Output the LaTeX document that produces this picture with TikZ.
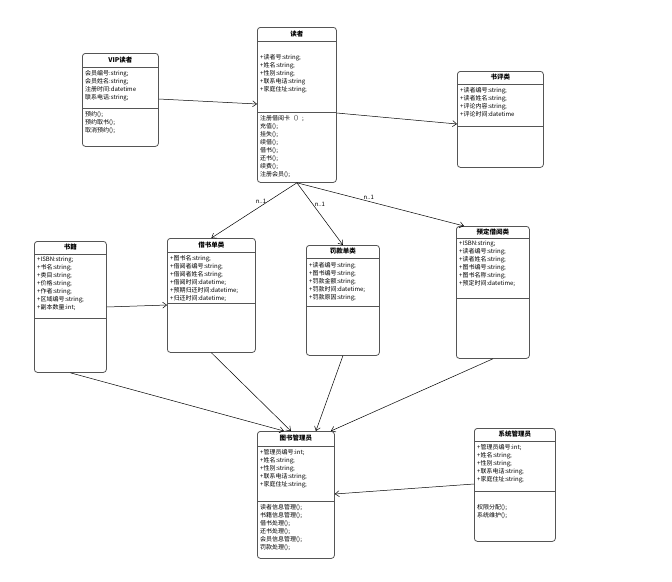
\documentclass[tikz,border=0pt]{standalone}
\usepackage{fontspec}
\setmainfont{Noto Sans CJK SC}
\usepackage{tikz}
\usetikzlibrary{arrows.meta,calc,positioning}
\definecolor{c1}{RGB}{85,85,85}
\tikzset{
  classbox/.style={draw=c1, rounded corners=3pt, line width=0.8pt, inner sep=0pt},
  classtitle/.style={font=\fontsize{6.5}{8}\selectfont\bfseries, inner sep=0pt},
  divider/.style={draw=c1, line width=0.7pt},
  members/.style={font=\fontsize{6}{8}\selectfont, align=left, inner sep=0pt},
  edge/.style={-{Straight Barb[length=4pt,width=6pt]}, line width=0.5pt},
  mult/.style={font=\fontsize{6}{7}\selectfont, inner sep=1.5pt}
}
% name, top left, width, height, title line, member line, title, fields, operations
\newcommand{\umlclass}[9]{%
  \node[classbox, minimum width=#3pt, minimum height=#4pt, anchor=north west] (#1) at (#2) {};
  \node[classtitle] (#1-title) at ([yshift=-#5pt/2]#1.north) {#7};
  \draw[divider] ([yshift=-#5pt]#1.north west) -- ([yshift=-#5pt]#1.north east);
  \draw[divider] ([yshift=-#6pt]#1.north west) -- ([yshift=-#6pt]#1.north east);
  \node[members, anchor=north west] (#1-fields) at ([xshift=3pt,yshift=-#5pt-3pt]#1.north west) {#8};
  \node[members, anchor=north west] (#1-ops) at ([xshift=3pt,yshift=-#6pt-3pt]#1.north west) {#9};
}

\begin{document}
\begin{tikzpicture}[x=1pt, y=-1pt]
    \useasboundingbox[fill=white] (0,0) rectangle (672,581);

    \umlclass{vip}{82,53}{76}{93}{14}{55}{VIP读者}
      {会员编号:string;\\会员姓名:string;\\注册时间:datetime\\联系电话:string;}
      {预约();\\预约取书();\\取消预约();}
    \umlclass{reader}{257,27}{79}{155}{14}{85}{读者}
      {\mbox{}\\[7pt]+读者号:string;\\+姓名:string;\\+性别:string;\\+联系电话:string\\+家庭住址:string;}
      {注册借阅卡（）;\\充值();\\挂失();\\续借();\\借书();\\还书();\\续费();\\注册会员();}
    \umlclass{review}{457,71}{86}{96}{13}{55}{书评类}
      {+读者编号:string;\\+读者姓名:string;\\+评论内容:string;\\+评论时间:datetime}
      {}
    \umlclass{book}{34,241}{72}{131}{13}{77}{书籍}
      {+ISBN:string;\\+书名:string;\\+类目:string;\\+价格:string;\\+作者:string;\\+区域编号:string;\\+副本数量:int;}
      {}
    \umlclass{lend}{167,238}{88}{114}{14}{65}{借书单类}
      {+图书名:string;\\+借阅者编号:string;\\+借阅者姓名:string;\\+借阅时间:datetime;\\+预期归还时间:datetime;\\+归还时间:datetime;}
      {}
    \umlclass{fine}{306,245}{73}{110}{13}{61}{罚款单类}
      {\mbox{}\\[-2pt]+读者编号:string;\\+图书编号:string;\\+罚款金额:string;\\+罚款时间:datetime;\\+罚款原因:string;}
      {}
    \umlclass{reserve}{456,226}{73}{132}{12}{72}{预定借阅类}
      {+ISBN:string;\\+读者编号:string;\\+读者姓名:string;\\+图书编号:string;\\+图书名称:string;\\+预定时间:datetime;}
      {}
    \umlclass{librarian}{257,431}{77}{127}{15}{70}{图书管理员}
      {\mbox{}\\[-3pt]+管理员编号:int;\\+姓名:string;\\+性别:string;\\+联系电话:string;\\+家庭住址:string;}
      {读者信息管理();\\书籍信息管理();\\借书处理();\\还书处理();\\会员信息管理();\\罚款处理();}
    \umlclass{sysadmin}{474,428}{81}{113}{13}{63}{系统管理员}
      {+管理员编号:int;\\+姓名:string;\\+性别:string;\\+联系电话:string;\\+家庭住址:string;}
      {\mbox{}\\[7pt]权限分配();\\系统维护();}

    \draw [edge] ([yshift=-46pt]vip.north east) -- ([yshift=-77pt]reader.north west);
    \draw [edge] ([yshift=-86pt]reader.north east) -- ([yshift=-53pt]review.north west);
    \draw [edge] (reader.south) -- node[mult, pos=0.34, left] {n..1} (lend.north);
    \draw [edge] (reader.south) -- node[mult, pos=0.35, right] {n..1} (fine.north);
    \draw [edge] (reader.south) -- node[mult, pos=0.43, above] {n..1} ([xshift=8pt]reserve.north west);
    \draw [edge] ([yshift=-66pt]book.north east) -- ([yshift=-67pt]lend.north west);
    \draw [edge] (book.south) -- ([xshift=-12pt]librarian.north);
    \draw [edge] (lend.south) -- ([xshift=-5pt]librarian.north);
    \draw [edge] (fine.south) -- ([xshift=20pt]librarian.north);
    \draw [edge] (reserve.south) -- ([xshift=35pt]librarian.north);
    \draw [edge] ([yshift=-56pt]sysadmin.north west) -- ([yshift=-63pt]librarian.north east);
\end{tikzpicture}
\end{document}
